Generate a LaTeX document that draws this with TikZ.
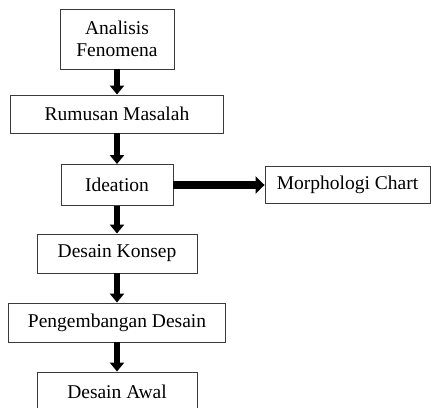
\documentclass[tikz,border=0pt]{standalone}
\usepackage{fontspec}
\setmainfont{Liberation Serif}
\usetikzlibrary{arrows.meta, positioning}
\definecolor{boxline}{HTML}{3A3A3A}
\definecolor{flowblack}{HTML}{000000}

\tikzset{
  stagebox/.style={draw=boxline, line width=0.9pt, fill=white, inner sep=0pt,
    align=center, font=\fontsize{19.5}{22}\selectfont},
  downarrow/.style={flowblack, line width=6pt, -{Triangle[width=14pt, length=9pt]}},
  sidearrow/.style={flowblack, line width=8pt, -{Triangle[width=17pt, length=9pt]}}
}

\begin{document}
\begin{tikzpicture}[x=1pt, y=-1pt]
  % Page frame
  \useasboundingbox (0,0) rectangle (431,407);

  % Main flow
  \node[stagebox, minimum width=114pt, minimum height=60pt] (fen) at (117, 39) {Analisis\\Fenomena};
  \node[stagebox, minimum width=213pt, minimum height=38pt] (rum) at (117, 114) {Rumusan Masalah};
  \node[stagebox, minimum width=112pt, minimum height=41pt] (ide) at (117, 185) {Ideation};
  \node[stagebox, minimum width=160pt, minimum height=39pt] (kon) at (117, 253.5) {Desain Konsep};
  \node[stagebox, minimum width=217pt, minimum height=39pt] (pen) at (117, 322.5) {Pengembangan Desain};
  \node[stagebox, minimum width=160pt, minimum height=40pt] (awl) at (117, 392) {Desain Awal};

  % Side branch
  \node[stagebox, minimum width=165pt, minimum height=37pt] (mor) at (347.5, 185) {Morphologi Chart};

  % Arrows
  \draw[downarrow] (fen) -- (rum);
  \draw[downarrow] (rum) -- (ide);
  \draw[downarrow] (ide) -- (kon);
  \draw[downarrow] (kon) -- (pen);
  \draw[downarrow] (pen) -- (awl);
  \draw[sidearrow] (ide) -- (mor);
\end{tikzpicture}
\end{document}
